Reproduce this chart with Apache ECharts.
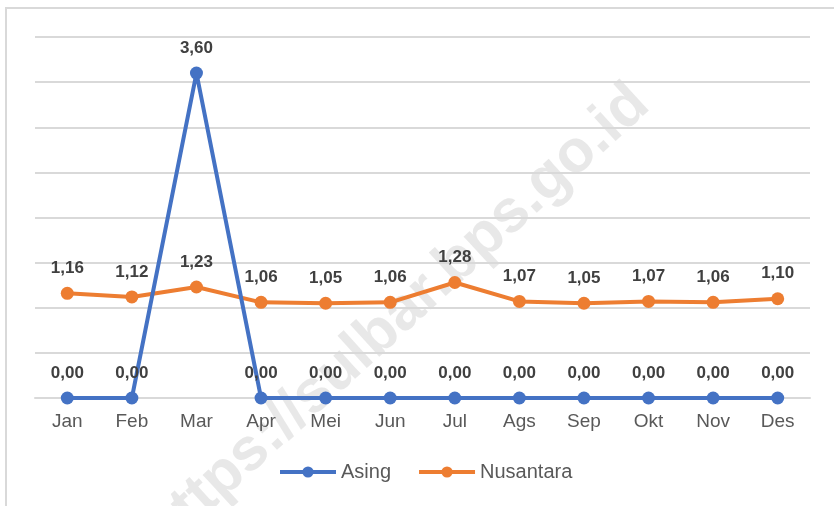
<!DOCTYPE html>
<html>
<head>
<meta charset="utf-8">
<script src="https://cdn.jsdelivr.net/npm/echarts@6/dist/echarts.min.js"></script>
<style>html,body{margin:0;padding:0;background:#fff;}#c{width:834px;height:506px;}</style>
</head>
<body>
<div id="c"></div>
<script>
var categories = ['Jan','Feb','Mar','Apr','Mei','Jun','Jul','Ags','Sep','Okt','Nov','Des'];
var asing = [0.00, 0.00, 3.60, 0.00, 0.00, 0.00, 0.00, 0.00, 0.00, 0.00, 0.00, 0.00];
var nusantara = [1.16, 1.12, 1.23, 1.06, 1.05, 1.06, 1.28, 1.07, 1.05, 1.07, 1.06, 1.10];
var seriesNames = ['Asing', 'Nusantara'];

var FONT = '"Liberation Sans", Arial, sans-serif';
var chart = echarts.init(document.getElementById('c'));
function fmt(p){ return p.value.toFixed(2).replace('.', ','); }
var labelCfg = { show: true, position: 'top', distance: 10, formatter: fmt,
  fontFamily: FONT, fontSize: 17, fontWeight: 'bold', color: '#404040' };

chart.setOption({
  animation: false,
  backgroundColor: '#fff',
  graphic: [
    { type: 'rect', z: -10, silent: true, shape: { x: 6, y: 8, width: 900, height: 600 },
      style: { fill: 'none', stroke: '#d9d9d9', lineWidth: 2 } },
    { type: 'text', z: -5, silent: true, x: 397, y: 318, rotation: 0.74,
      style: { text: 'https://sulbar.bps.go.id', fontFamily: FONT, fontSize: 60, fontWeight: 'bold',
        fill: 'rgba(200,200,200,0.42)', align: 'center', verticalAlign: 'middle' } }
  ],
  grid: { left: 35, right: 24, top: 37, bottom: 108, containLabel: false },
  legend: {
    data: seriesNames, bottom: 19, left: 273, itemWidth: 56, itemHeight: 14, itemGap: 26,
    lineStyle: { width: 4 },
    textStyle: { fontFamily: FONT, fontSize: 20, color: '#595959' }
  },
  xAxis: {
    type: 'category', data: categories, boundaryGap: true,
    axisLine: { show: true, lineStyle: { color: '#d9d9d9', width: 2 } },
    axisTick: { show: false },
    axisLabel: { fontFamily: FONT, fontSize: 19, color: '#595959', margin: 14 }
  },
  yAxis: {
    type: 'value', min: 0, max: 4, interval: 0.5,
    axisLine: { show: false }, axisTick: { show: false }, axisLabel: { show: false },
    splitLine: { lineStyle: { color: '#d9d9d9', width: 2 } }
  },
  series: [
    { name: seriesNames[0], type: 'line', data: asing, symbol: 'circle', symbolSize: 13,
      color: '#4472c4', lineStyle: { width: 4, color: '#4472c4' }, itemStyle: { color: '#4472c4' },
      label: labelCfg, z: 3 },
    { name: seriesNames[1], type: 'line', data: nusantara, symbol: 'circle', symbolSize: 13,
      color: '#ed7d31', lineStyle: { width: 4, color: '#ed7d31' }, itemStyle: { color: '#ed7d31' },
      label: labelCfg, z: 2 }
  ]
});
</script>
</body>
</html>
